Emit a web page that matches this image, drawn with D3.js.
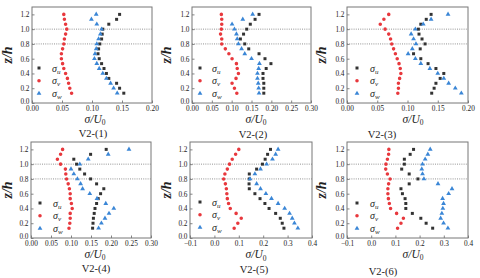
<!DOCTYPE html>
<html><head><meta charset="utf-8">
<script src="https://cdn.jsdelivr.net/npm/d3@7"></script>
<style>
html,body{margin:0;padding:0;background:#fff;}
svg{display:block;}
text{font-family:"Liberation Serif","Times New Roman",serif;fill:#222;}
</style></head>
<body><svg id="c" width="480" height="278"></svg>
<script>
// Heights z/h of the measurement points (top to bottom)
const zLevels = [1.2,1.133,1.067,1.0,0.933,0.867,0.8,0.733,0.667,0.6,0.533,0.467,0.4,0.333,0.267,0.2,0.133];
const yTicks = [0.0,0.2,0.4,0.6,0.8,1.0,1.2];
const refLines = [1.0, 0.8];
const panelNames = ["V2-(1)","V2-(2)","V2-(3)","V2-(4)","V2-(5)","V2-(6)"];
const xTicks1 = [0.00,0.05,0.10,0.15,0.20];
const xTicks2 = [0.00,0.05,0.10,0.15,0.20,0.25,0.30];
const xTicks5 = [-0.1,0.0,0.1,0.2,0.3,0.4];

const su1 = [0.146,0.141,0.128,0.118,0.117,0.116,0.113,0.111,0.110,0.112,0.116,0.120,0.124,0.128,0.141,0.146,0.153];
const sv1 = [0.053,0.054,0.056,0.058,0.056,0.054,0.053,0.051,0.049,0.049,0.051,0.053,0.056,0.059,0.061,0.063,0.066];
const sw1 = [0.107,0.099,0.108,0.116,0.114,0.111,0.108,0.107,0.105,0.104,0.108,0.112,0.118,0.124,0.131,0.136,0.142];

const su2 = [0.169,0.159,0.147,0.138,0.130,0.122,0.133,0.143,0.169,0.184,0.199,0.187,0.179,0.179,0.181,0.181,0.181];
const sv2 = [0.074,0.075,0.075,0.074,0.072,0.075,0.075,0.084,0.093,0.101,0.112,0.114,0.117,0.111,0.101,0.107,0.113];
const sw2 = [0.153,0.128,0.101,0.107,0.112,0.114,0.117,0.125,0.133,0.150,0.170,0.168,0.165,0.165,0.167,0.168,0.169];

const su3 = [0.139,0.131,0.122,0.118,0.119,0.124,0.129,0.121,0.110,0.122,0.134,0.147,0.160,0.154,0.147,0.144,0.140];
const sv3 = [0.069,0.061,0.055,0.063,0.069,0.072,0.074,0.077,0.080,0.083,0.086,0.088,0.089,0.087,0.085,0.085,0.084];
const sw3 = [0.167,0.139,0.126,0.113,0.106,0.110,0.114,0.108,0.101,0.113,0.122,0.137,0.150,0.160,0.168,0.179,0.189];

const su4 = [0.188,0.149,0.107,0.114,0.122,0.134,0.149,0.164,0.182,0.174,0.168,0.164,0.160,0.158,0.156,0.155,0.154];
const sv4 = [0.079,0.074,0.066,0.074,0.086,0.087,0.089,0.093,0.096,0.098,0.098,0.101,0.103,0.098,0.098,0.097,0.095];
const sw4 = [0.245,0.193,0.143,0.122,0.100,0.107,0.116,0.124,0.129,0.147,0.165,0.187,0.207,0.195,0.185,0.176,0.169];

const su5 = [0.230,0.218,0.208,0.197,0.173,0.143,0.143,0.142,0.143,0.166,0.187,0.207,0.224,0.251,0.270,0.278,0.285];
const sv5 = [0.100,0.087,0.073,0.062,0.053,0.043,0.038,0.045,0.049,0.051,0.053,0.058,0.065,0.089,0.110,0.096,0.081];
const sw5 = [0.261,0.251,0.238,0.214,0.189,0.166,0.146,0.173,0.189,0.211,0.234,0.261,0.288,0.308,0.319,0.328,0.342];

const su6 = [0.175,0.161,0.137,0.137,0.126,0.157,0.193,0.157,0.123,0.129,0.140,0.143,0.143,0.170,0.205,0.227,0.254];
const sv6 = [0.073,0.072,0.067,0.061,0.060,0.067,0.078,0.072,0.069,0.069,0.071,0.075,0.080,0.105,0.133,0.123,0.109];
const sw6 = [0.244,0.234,0.223,0.212,0.209,0.212,0.218,0.276,0.334,0.320,0.295,0.299,0.296,0.292,0.287,0.299,0.317];

const seriesKeys = ["u","v","w"];
const colors = {u:"#333333", v:"#e8383d", w:"#3a86d6"};

// layout
const panels = [
  {x0:32, x1:152, y0:7,   y1:103, dom:[0,0.2],  ticks:xTicks1, fmt:".2f", data:[su1,sv1,sw1], lab:[93,137], xt:[95,122.5], zt:8,   leg:[39,68,52]},
  {x0:192,x1:311, y0:7,   y1:103, dom:[0,0.3],  ticks:xTicks2, fmt:".2f", data:[su2,sv2,sw2], lab:[253,138], xt:[256,122.5], zt:167, leg:[200,68,212]},
  {x0:347,x1:468, y0:7,   y1:103, dom:[0,0.2],  ticks:xTicks1, fmt:".2f", data:[su3,sv3,sw3], lab:[382,138], xt:[413,122.5], zt:322, leg:[357,68,370]},
  {x0:31, x1:151, y0:142, y1:238, dom:[0,0.3],  ticks:xTicks2, fmt:".2f", data:[su4,sv4,sw4], lab:[96,272], xt:[95,257.5], zt:8,   leg:[40,203,53]},
  {x0:190,x1:312, y0:142, y1:238, dom:[-0.1,0.4],ticks:xTicks5, fmt:".1f", data:[su5,sv5,sw5], lab:[254,273], xt:[256,258], zt:167, leg:[200,202,212]},
  {x0:347,x1:468, y0:142, y1:238, dom:[-0.1,0.4],ticks:xTicks5, fmt:".1f", data:[su6,sv6,sw6], lab:[383,275], xt:[413,257.5], zt:322, leg:[357,203,370]}
];

const svg = d3.select("#c");
const sym = {
  u: d3.symbol().type(d3.symbolSquare).size(9),
  v: d3.symbol().type(d3.symbolCircle).size(10),
  w: d3.symbol().type(d3.symbolTriangle).size(10)
};

panels.forEach((p,i)=>{
  const x = d3.scaleLinear().domain(p.dom).range([p.x0,p.x1]);
  const y = d3.scaleLinear().domain([0,1.3]).range([p.y1,p.y0]);
  const g = svg.append("g");

  // reference dotted lines
  g.selectAll(".ref").data(refLines).enter().append("line")
    .attr("x1",p.x0).attr("x2",p.x1)
    .attr("y1",d=>y(d)).attr("y2",d=>y(d))
    .attr("stroke","#777").attr("stroke-width",0.8).attr("stroke-dasharray","1,1.2");

  // axes
  const xa = g.append("g").attr("transform",`translate(0,${p.y1})`)
    .call(d3.axisBottom(x).tickValues(p.ticks).tickFormat(d3.format(p.fmt)).tickSize(-2.5).tickPadding(2.5));
  const ya = g.append("g").attr("transform",`translate(${p.x0},0)`)
    .call(d3.axisLeft(y).tickValues(yTicks).tickFormat(d3.format(".1f")).tickSize(-2.5).tickPadding(2.5));
  [xa,ya].forEach(a=>{
    a.attr("font-family",null).attr("font-size",null);
    a.select(".domain").remove();
    a.selectAll("line").attr("stroke","#666").attr("stroke-width",0.8);
    a.selectAll("text").attr("font-size","7.3px").attr("fill","#333");
  });
  ya.selectAll("text").filter(d=>d===0).attr("dy","0.1em");

  // frame
  g.append("rect").attr("x",p.x0).attr("y",p.y0)
    .attr("width",p.x1-p.x0).attr("height",p.y1-p.y0)
    .attr("fill","none").attr("stroke","#777").attr("stroke-width",1);

  // data points
  seriesKeys.forEach((k,si)=>{
    g.selectAll(".pt"+k).data(p.data[si]).enter().append("path")
      .attr("d",sym[k]())
      .attr("transform",(d,j)=>`translate(${x(d)},${y(zLevels[j])})`)
      .attr("fill",colors[k]);
  });

  // legend
  seriesKeys.forEach((k,si)=>{
    const ly = p.leg[1] + si*12.7;
    g.append("path").attr("d",sym[k]()).attr("transform",`translate(${p.leg[0]},${ly})`).attr("fill",colors[k]);
    const t = g.append("text").attr("x",p.leg[2]).attr("y",ly+3.5)
      .attr("font-size","10px").attr("font-style","italic");
    t.append("tspan").text("σ");
    t.append("tspan").attr("font-size","7px").attr("dy",2).text(k);
  });

  // y title
  g.append("text").attr("transform",`translate(${p.zt+4},${(p.y0+p.y1)/2}) rotate(-90)`)
    .attr("text-anchor","middle").attr("font-size","14px").attr("font-style","italic")
    .attr("font-weight","bold").attr("fill","#333").text("z/h");

  // x title
  const xt = g.append("text").attr("x",p.xt[0]).attr("y",p.xt[1])
    .attr("text-anchor","middle").attr("font-size","11.5px").attr("font-style","italic").attr("fill","#333");
  xt.append("tspan").text("σ/U");
  xt.append("tspan").attr("font-size","7.5px").attr("dy",2.5).attr("font-style","normal").text("0");

  // panel label
  g.append("text").attr("x",p.lab[0]).attr("y",p.lab[1])
    .attr("text-anchor","middle").attr("font-size","10.5px").attr("fill","#333").text(panelNames[i]);
});
</script>
</body></html>
